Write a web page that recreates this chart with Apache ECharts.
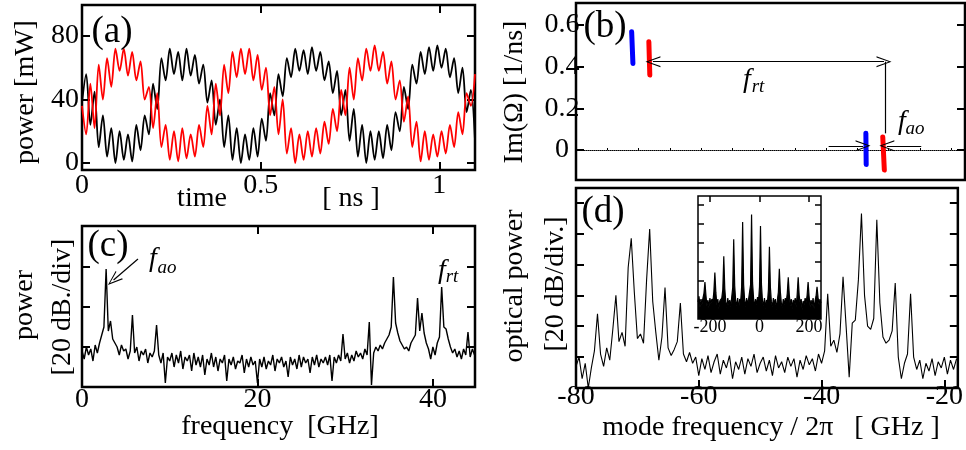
<!DOCTYPE html>
<html><head><meta charset="utf-8">
<script src="https://cdn.jsdelivr.net/npm/echarts@6/dist/echarts.min.js"></script>
<style>html,body{margin:0;padding:0;background:#fff}#c{width:966px;height:450px}</style>
</head><body><div id="c"></div>
<script>
// ---------- DATA ----------
// (a) power traces, turning points read every half fast period (t = i * 1.1/94 ns)
const tEnd = 1.1;
const blackPower = [38,56,24,45,10,30,4,22,0,20,
  2,18,1,24,8,30,18,50,34,66,
  52,72,56,70,52,72,55,68,50,62,
  38,52,24,40,10,30,2,22,0,18,
  2,22,4,28,14,44,30,56,42,66,
  54,72,58,71,56,73,58,70,52,64,
  44,58,30,46,14,34,4,24,0,20,
  2,20,3,24,8,32,20,48,34,62,
  50,70,56,73,58,74,60,72,54,66,
  44,60,32,46,14];
const redPower = [36,18,50,22,62,40,66,48,72,58,
  72,55,70,52,64,40,48,22,44,10,
  24,2,20,1,22,3,18,4,24,10,
  36,18,50,30,62,44,70,54,72,56,
  72,52,68,46,60,30,48,18,40,6,
  22,0,18,2,20,4,22,6,26,12,
  34,20,46,30,60,40,66,52,72,58,
  74,58,70,50,64,40,52,26,42,10,
  26,1,20,2,18,4,20,6,24,10,
  32,18,44,36,56];
// (c) RF spectrum, dB, every 0.25 GHz from 0
const rfStep = 0.25;
const rfPower = [18,14,20,16,19,13,21,17,22,26,
  30,59,28,33,24,22,20,16,21,18,
  19,14,18,36,17,20,13,18,16,19,
  12,17,15,18,31,16,12,17,2,15,
  13,17,10,16,12,18,9,15,13,16,
  8,17,11,15,10,16,6,14,11,17,
  10,15,8,14,12,16,3,14,11,15,
  9,13,12,16,7,14,10,15,11,13,
  2,14,10,15,9,13,11,16,8,14,
  12,15,10,13,5,15,11,14,9,16,
  10,15,12,14,7,15,11,16,10,14,
  12,15,11,16,3,15,12,16,13,26.5,
  14,17,12,16,13,18,15,17,14,19,
  16,32.5,1,17,20,18,21,19,22,24,
  26,30,55,32,27,23,21,19,20,18,
  22,24,26,44.5,28,37,27,22,19,14,
  20,16,22,25,50,30,29,24,20,17,
  19,15,18,14,19,16,27.5,15,19,16];
// (d) optical spectrum, dB, every 0.5 GHz from -80
const optStart = -80, optStep = 0.5;
const optPower = [14,20,6,16,0,13,24,48,22,14,
  26,18,38,60,30,36,27,78,97,62,
  32,35,29,70,103,56,36,18,33,65,
  26,21,25,30,55,22,17,23,16,20,
  8,19,12,21,10,17,22,9,18,13,
  21,6,17,12,20,9,19,14,22,10,
  16,20,11,18,8,21,13,17,10,20,
  14,19,7,18,12,21,15,19,11,22,
  16,24,61,27,31,23,35,72,40,7,
  42,44,70,113,60,40,38,45,109,55,
  33,29,31,37,68,20,6,16,22,61,
  20,12,18,6,16,11,19,8,17,13,
  20,9,18,12,19];
// (d) inset: wide optical spectrum, dB, every 4 GHz from -248
const insStart = -248, insStep = 4;
const insetPower = [18,24,12,20,15,22,27,39,25,14,
  20,12,22,16,21,18,29,49,28,15,
  21,11,19,17,22,31,66,32,18,12,
  22,15,20,13,23,33,84,35,19,14,
  22,10,21,18,34,102,36,20,13,22,
  16,21,19,36,110,38,22,12,21,15,
  23,18,34,98,36,19,14,22,11,20,
  17,31,76,33,18,13,22,16,21,10,
  20,28,53,29,17,12,21,15,22,18,
  27,44,26,14,21,11,20,16,22,13,
  26,44,25,16,21,10,19,15,22,17,
  25,39,24,13,20,14,22,11,19,24,
  34,23,15,20,17];
// (b) Im(Omega) eigenvalue branches: [freq GHz, Im 1/ns] end points
const blueUpper = [[-71.1,0.568],[-70.9,0.416]];
const redUpper  = [[-68.35,0.52],[-68.2,0.36]];
const blueLower = [[-33.65,0.08],[-33.6,-0.07]];
const redLower  = [[-30.95,0.063],[-30.7,-0.096]];
// tick labels
const aTimeTicks = [0,0.5,1], aPowTicks = [0,40,80];
const cFreqTicks = [0,20,40], cDbTicks = [20,40,60];
const bImTicks = [0,0.2,0.4,0.6];
const dFreqTicks = [-80,-60,-40,-20], dDbTicks = [20,40,60,80,100,120];
const insFreqTicks = [-200,0,200];

// ---------- BUILD ----------
const aBlack = blackPower.map((v,i)=>[i*tEnd/(blackPower.length-1), v]);
const aRed = redPower.map((v,i)=>[i*tEnd/(redPower.length-1), v]);
const cData = rfPower.map((v,i)=>[i*rfStep, v]);
const dData = optPower.map((v,i)=>[optStart+i*optStep, v]);
const insData = insetPower.map((v,i)=>[insStart+i*insStep, v]);

const FONT = 'Liberation Serif';
const CHEV = 'path://M5,0 L10,14 L8.9,14 L5,2.6 L1.1,14 L0,14 Z';
const noLine = {show:false, onZero:false};
function tk(vals, len, w){ return {show:true, inside:true, length:len||8, customValues:vals, lineStyle:{color:'#000', width:w||2}}; }
function lbl(vals, size, margin, extra){ return Object.assign({show:true, customValues:vals, fontFamily:FONT, fontSize:size, color:'#000', margin:margin, formatter:v=>String(v)}, extra||{}); }
const off = {show:false};
function gridBox(l,t,w,h,bw){ return {left:l, top:t, width:w, height:h, show:true, borderColor:'#000', borderWidth:bw||2.5, backgroundColor:'#fff', containLabel:false}; }
const mlBase = {silent:true, symbol:['none','none'], symbolSize:[11,15], label:{show:false}, emphasis:{disabled:true},
  lineStyle:{color:'#000', width:1.2, type:'solid'}};

const option = {
  animation:false,
  backgroundColor:'#fff',
  grid:[
    gridBox(82,5,393,165),     // a
    gridBox(82,226,393,161),   // c
    gridBox(576,3,389,177),    // b
    gridBox(576,188,389,200),  // d
    gridBox(698,196,123,123,1.5) // inset
  ],
  xAxis:[
    {gridIndex:0, type:'value', min:0, max:1.1, axisLine:noLine, splitLine:off, axisTick:tk(aTimeTicks), axisLabel:lbl(aTimeTicks,28,2)},
    {gridIndex:0, type:'value', position:'top', min:0, max:1.1, axisLine:noLine, splitLine:off, axisTick:tk([0.5,1]), axisLabel:off},
    {gridIndex:1, type:'value', min:0, max:44.8, axisLine:noLine, splitLine:off, axisTick:tk(cFreqTicks), axisLabel:lbl(cFreqTicks,28,-1)},
    {gridIndex:1, type:'value', position:'top', min:0, max:44.8, axisLine:noLine, splitLine:off, axisTick:tk([20,40]), axisLabel:off},
    {gridIndex:2, type:'value', min:-80, max:-17.8, interval:5, axisLine:{show:true, onZero:true, lineStyle:{color:'#000', width:1, type:'dotted'}}, splitLine:off, axisTick:{show:true, inside:true, length:2, lineStyle:{color:'#000', width:1}}, axisLabel:off},
    {gridIndex:3, type:'value', min:-80, max:-17.8, axisLine:noLine, splitLine:off, axisTick:tk(dFreqTicks), axisLabel:lbl(dFreqTicks,28,-5)},
    {gridIndex:4, type:'value', min:-248, max:248, axisLine:noLine, splitLine:off, axisTick:tk(insFreqTicks,6,1.5), axisLabel:lbl(insFreqTicks,18,-1)},
    {gridIndex:4, type:'value', position:'top', min:-248, max:248, axisLine:noLine, splitLine:off, axisTick:tk(insFreqTicks,6,1.5), axisLabel:off}
  ],
  yAxis:[
    {gridIndex:0, type:'value', min:-4.4, max:99.5, axisLine:noLine, splitLine:off, axisTick:tk(aPowTicks), axisLabel:lbl(aPowTicks,28,3)},
    {gridIndex:0, type:'value', position:'right', min:-4.4, max:99.5, axisLine:noLine, splitLine:off, axisTick:tk(aPowTicks), axisLabel:off},
    {gridIndex:1, type:'value', min:0, max:80.5, axisLine:noLine, splitLine:off, axisTick:tk(cDbTicks), axisLabel:off},
    {gridIndex:1, type:'value', position:'right', min:0, max:80.5, axisLine:noLine, splitLine:off, axisTick:tk(cDbTicks), axisLabel:off},
    {gridIndex:2, type:'value', min:-0.144, max:0.706, axisLine:noLine, splitLine:off, axisTick:tk(bImTicks), axisLabel:lbl(bImTicks,28,14,{align:'center', formatter:v=>v===0?'0':v.toFixed(1)})},
    {gridIndex:2, type:'value', position:'right', min:-0.144, max:0.706, axisLine:noLine, splitLine:off, axisTick:tk(bImTicks), axisLabel:off},
    {gridIndex:3, type:'value', min:0, max:129.5, axisLine:noLine, splitLine:off, axisTick:tk(dDbTicks), axisLabel:off},
    {gridIndex:3, type:'value', position:'right', min:0, max:129.5, axisLine:noLine, splitLine:off, axisTick:tk(dDbTicks), axisLabel:off},
    {gridIndex:4, type:'value', min:0, max:129.5, axisLine:noLine, splitLine:off, axisTick:tk(dDbTicks,6,1.5), axisLabel:off},
    {gridIndex:4, type:'value', position:'right', min:0, max:129.5, axisLine:noLine, splitLine:off, axisTick:tk(dDbTicks,6,1.5), axisLabel:off}
  ],
  series:[
    {type:'line', xAxisIndex:0, yAxisIndex:0, data:aBlack, symbol:'none', smooth:0.3, lineStyle:{color:'#000', width:1.8}},
    {type:'line', xAxisIndex:0, yAxisIndex:0, data:aRed, symbol:'none', smooth:0.3, lineStyle:{color:'#ff0000', width:1.8}},
    {type:'line', xAxisIndex:2, yAxisIndex:2, data:cData, symbol:'none', lineStyle:{color:'#000', width:1.4},
      markLine:Object.assign({}, mlBase, {data:[[{coord:[6.38,64]},{coord:[3.6,53.5], symbol:CHEV}]]})},
    {type:'line', xAxisIndex:4, yAxisIndex:4, data:blueUpper, symbol:'none', lineStyle:{color:'#0000ff', width:5, cap:'round'}},
    {type:'line', xAxisIndex:4, yAxisIndex:4, data:redUpper, symbol:'none', lineStyle:{color:'#ff0000', width:5, cap:'round'}},
    {type:'line', xAxisIndex:4, yAxisIndex:4, data:blueLower, symbol:'none', lineStyle:{color:'#0000ff', width:5, cap:'round'}},
    {type:'line', xAxisIndex:4, yAxisIndex:4, data:redLower, symbol:'none', lineStyle:{color:'#ff0000', width:5, cap:'round'},
      markLine:Object.assign({}, mlBase, {data:[
          [{coord:[-67.7,0.424], symbol:CHEV},{coord:[-30.75,0.424], symbol:CHEV}],
          [{coord:[-30.6,0.424]},{coord:[-30.6,0.08]}],
          [{coord:[-39.6,0.02]},{coord:[-34.1,0.02], symbol:CHEV}],
          [{coord:[-24.8,0.02]},{coord:[-30.3,0.02], symbol:CHEV}]
        ]})},
    {type:'line', xAxisIndex:5, yAxisIndex:6, data:dData, symbol:'none', lineStyle:{color:'#000', width:1.1}},
    {type:'line', xAxisIndex:6, yAxisIndex:8, data:insData, symbol:'none', lineStyle:{color:'#000', width:1.2}, areaStyle:{color:'#000', opacity:1}}
  ],
  graphic:[]
};

function txt(s, x, y, size, opts){
  opts = opts || {};
  const font = (opts.italic?'italic ':'') + size + 'px "' + FONT + '"';
  return {type:'text', x:x, y:y, rotation:opts.rot||0, z:100, silent:true,
    style:{text:s, font:font, fill:'#000', align:opts.align||'center', verticalAlign:'middle', textAlign:opts.align||'center', textVerticalAlign:'middle'}};
}
const R = Math.PI/2;
option.graphic = [
  txt('(a)',112,32,37), txt('(b)',605,27,37), txt('(c)',108,246,37), txt('(d)',603,212,37),
  txt('power [mW]',26,92,28,{rot:R}),
  txt('time',202,199,28), txt('[ ns ]',351,199,28),
  txt('power',25,305,28,{rot:R}), txt('[20 dB./div]',63,307,28,{rot:R}),
  txt('frequency  [GHz]',280,427,28),
  txt('Im(\u03A9) [1/ns]',515,92,28,{rot:R}),
  txt('optical power',515,286,28,{rot:R}), txt('[20 dB/div.]',556,284,28,{rot:R}),
  txt('mode frequency / 2\u03C0   [ GHz ]',771,428,28),
  txt('f',153,259,28,{italic:true}), txt('ao',167,268,19,{italic:true}),
  txt('f',442,271,28,{italic:true}), txt('rt',452,277,19,{italic:true}),
  txt('f',747,80,28,{italic:true}), txt('rt',758,87,19,{italic:true}),
  txt('f',902,122,28,{italic:true}), txt('ao',915,129,19,{italic:true})
];

const chart = echarts.init(document.getElementById('c'), null, {renderer:'canvas'});
chart.setOption(option);
</script>
</body></html>
